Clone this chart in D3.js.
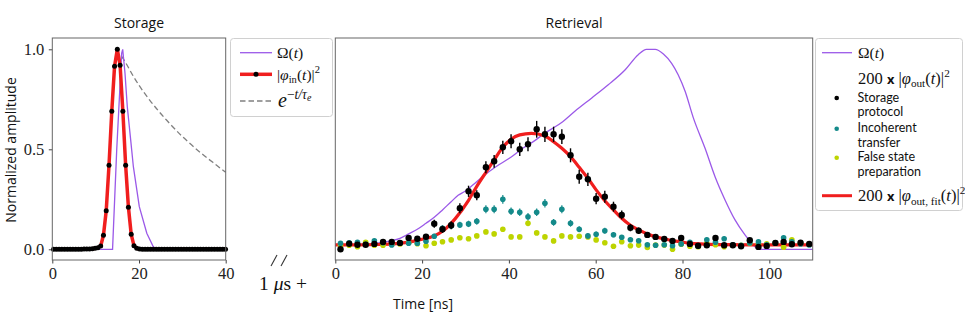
<!DOCTYPE html>
<html><head><meta charset="utf-8">
<script src="https://cdn.jsdelivr.net/npm/d3@7"></script>
<style>body{margin:0;background:#fff} svg{display:block}</style>
</head><body>
<svg id="c" width="965" height="320"></svg>
<script>
// ---------- DATA ----------
// Storage panel
const inTimes = [0.28,0.92,1.56,2.2,2.84,3.48,4.12,4.76,5.4,6.04,6.68,7.32,7.96,8.6,9.24,9.88,10.52,11.16,11.8,12.44,13.08,13.72,14.36,15.0,15.64,16.28,16.92,17.56,18.2,18.84,19.48,20.12,20.76,21.4,22.04,22.68,23.32,23.96,24.6,25.24,25.88,26.52,27.16,27.8,28.44,29.08,29.72,30.36,31.0,31.64,32.28,32.92,33.56,34.2,34.84,35.48,36.12,36.76,37.4,38.04,38.68,39.32,39.96];
const inValues = [0,0,0,0,0,0,0,0,0,0,0,0.001,0.002,0.002,0.003,0.005,0.008,0.016,0.07,0.193,0.42,0.69,0.915,1.0,0.92,0.69,0.42,0.21,0.075,0.018,0.005,0.001,0,0,0,0,0,0,0,0,0,0,0,0,0,0,0,0,0,0,0,0,0,0,0,0,0,0,0,0,0,0,0];
const omegaInT = [0,13.9,14.86,16.0,16.24,16.77,17.3,18.08,18.7,20.07,21.8,23.3,24.1,40];
const omegaInV = [0,0,0.497,0.98,1.0,0.88,0.713,0.547,0.413,0.213,0.08,0.013,0,0];
const decayT = [16.0,17.0,18.7,20.0,22.5,26.4,30.2,34.1,37.9,40];
const decayV = [0.965,0.93,0.865,0.82,0.745,0.645,0.56,0.485,0.42,0.385];

// Retrieval panel
const outTimes = [1.2,3.2,5.1,7.0,9.0,11.0,13.0,14.9,16.9,18.9,20.9,22.8,24.7,26.7,28.7,30.7,32.6,34.7,36.6,38.6,40.5,42.5,44.4,46.4,48.3,50.3,52.2,54.2,56.2,58.2,60.1,62.1,64.1,66.0,68.0,69.9,71.9,73.8,75.8,77.7,79.7,81.7,83.6,85.6,87.6,89.6,91.6,93.5,95.5,97.5,99.4,101.4,103.3,105.2,107.2,109.2];
const storageVals = [0.0,0.028,0.023,0.023,0.027,0.037,0.037,0.032,0.057,0.053,0.063,0.128,0.10,0.12,0.205,0.29,0.27,0.41,0.44,0.51,0.54,0.50,0.525,0.60,0.575,0.575,0.563,0.47,0.363,0.35,0.253,0.263,0.213,0.172,0.108,0.093,0.072,0.062,0.052,0.042,0.057,0.027,0.018,0.02,0.057,0.02,0.02,0.015,0.045,0.012,0.017,0.032,0.037,0.025,0.033,0.027];
const storageErr = [0.008,0.008,0.008,0.008,0.008,0.009,0.009,0.009,0.01,0.01,0.012,0.02,0.018,0.02,0.025,0.028,0.025,0.03,0.032,0.033,0.035,0.033,0.035,0.042,0.038,0.038,0.037,0.035,0.035,0.033,0.028,0.03,0.025,0.022,0.018,0.016,0.014,0.012,0.012,0.01,0.012,0.009,0.008,0.008,0.012,0.008,0.008,0.008,0.01,0.008,0.008,0.009,0.009,0.008,0.009,0.008];
const incohVals = [0.03,0.033,0.035,0.025,0.043,0.033,0.022,0.033,0.03,0.03,0.04,0.065,0.105,0.117,0.122,0.127,0.14,0.2,0.2,0.25,0.19,0.185,0.163,0.185,0.23,0.135,0.2,0.13,0.10,0.067,0.075,0.093,0.073,0.06,0.048,0.043,0.023,0.02,0.023,0.018,0.027,0.035,0.015,0.048,0.035,0.053,0.023,0.02,0.032,0.037,0.023,0.032,0.058,0.038,0.027,0.022];
const incohErr = [0.01,0.01,0.01,0.01,0.01,0.01,0.01,0.01,0.01,0.01,0.011,0.013,0.015,0.016,0.016,0.016,0.017,0.02,0.02,0.022,0.019,0.019,0.018,0.019,0.021,0.017,0.02,0.017,0.015,0.013,0.014,0.015,0.013,0.012,0.012,0.011,0.01,0.01,0.01,0.01,0.01,0.01,0.01,0.011,0.01,0.012,0.01,0.01,0.01,0.01,0.01,0.01,0.012,0.01,0.01,0.01];
const falseVals = [0.02,0.02,0.013,0.035,0.02,0.02,0.025,0.027,0.033,0.028,0.018,0.03,0.038,0.047,0.058,0.053,0.067,0.087,0.077,0.10,0.062,0.062,0.13,0.082,0.062,0.042,0.067,0.062,0.065,0.062,0.047,0.033,0.015,0.038,0.018,0.021,0.009,0.021,0.021,0.0,0.025,0.015,0.013,0.03,0.023,0.013,0.02,0.02,0.03,0.025,0.028,0.03,0.01,0.048,0.03,0.025];
const falseErr = [0.008,0.008,0.008,0.008,0.008,0.008,0.008,0.008,0.008,0.008,0.008,0.008,0.009,0.009,0.01,0.01,0.01,0.011,0.011,0.012,0.01,0.01,0.015,0.011,0.01,0.009,0.01,0.01,0.01,0.01,0.009,0.009,0.008,0.009,0.008,0.008,0.008,0.008,0.008,0.008,0.008,0.008,0.008,0.008,0.008,0.008,0.008,0.008,0.008,0.008,0.008,0.008,0.008,0.009,0.008,0.008];
const fitT = [0,5,10,14,17,20,22.8,25,27.6,30.7,32.6,34.7,36.6,38.6,40.5,42.5,45.2,48.3,50.3,52.2,54.2,56.2,58.2,60.1,62.1,64.1,66,68,69.9,71.9,73.8,75.8,77.7,79.7,81.7,85,90,100,110];
const fitV = [0.022,0.022,0.024,0.028,0.036,0.05,0.067,0.095,0.152,0.245,0.315,0.385,0.447,0.51,0.55,0.572,0.58,0.567,0.538,0.505,0.463,0.41,0.355,0.297,0.243,0.197,0.155,0.12,0.097,0.077,0.063,0.052,0.043,0.037,0.03,0.026,0.023,0.022,0.022];
const omegaOutT = [0,4,8,11,13,14.9,16.9,18.9,20.9,22.8,24.7,26.7,28.3,29.9,31.6,33.9,37.0,40.1,43.2,46.2,48.2,50.1,52.4,55.2,59.1,62.9,66.8,69.8,71.7,73.7,75.6,77.5,79.0,80.6,82.5,85.2,87.5,89.8,92.1,94.4,96.7,97.8,110];
const omegaOutV = [0.02,0.022,0.027,0.035,0.043,0.055,0.077,0.10,0.13,0.16,0.197,0.238,0.27,0.29,0.32,0.363,0.413,0.455,0.505,0.547,0.58,0.605,0.638,0.69,0.757,0.823,0.898,0.973,1.0,1.0,0.977,0.93,0.873,0.79,0.657,0.505,0.363,0.247,0.147,0.072,0.013,0.0,0.0];

const leftTicksX = [0,20,40];
const rightTicksX = [0,20,40,60,80,100];
const ticksY = [0,0.5,1.0];

// ---------- STYLE ----------
const C = {purple:"#9b59e8", red:"#f01e1e", teal:"#148a8a", yel:"#bdd400", gray:"#808080", spine:"#666"};
const SERIF = "'Liberation Serif','DejaVu Serif',serif";
const SANS = "'Open Sans','Noto Sans',sans-serif";
const SANS2 = "Lato,'Open Sans',sans-serif";

const svg = d3.select("#c");
const xL = d3.scaleLinear([0,40],[52.3,225.7]);
const xR = d3.scaleLinear([0,110],[335.3,812.7]);
const y = d3.scaleLinear([0,1],[249.3,49.3]);
const yTop = 38, yBot = 260;

function frame(x0,x1){
  svg.append("rect").attr("x",x0).attr("y",yTop).attr("width",x1-x0).attr("height",yBot-yTop)
    .attr("fill","none").attr("stroke",C.spine).attr("stroke-width",1);
}
function styleAxis(g){
  g.select(".domain").remove();
  g.selectAll(".tick line").attr("stroke","#444");
  g.selectAll(".tick text").style("font-family",SERIF).style("font-size","16.5px").attr("fill","#222");
}

// ---------- LEFT PANEL ----------
svg.append("g").attr("transform",`translate(0,${yBot})`)
  .call(d3.axisBottom(xL).tickValues(leftTicksX).tickSize(3.5).tickPadding(3.5).tickFormat(d3.format("d"))).call(styleAxis);
svg.append("g").attr("transform",`translate(${xL(0)},0)`)
  .call(d3.axisLeft(y).tickValues(ticksY).tickSize(3.5).tickPadding(4.5).tickFormat(d3.format(".1f"))).call(styleAxis);

const lineL = d3.line().x(d=>xL(d[0])).y(d=>y(d[1]));
svg.append("path").datum(decayT.map((t,i)=>[t,decayV[i]])).attr("d",lineL.curve(d3.curveMonotoneX))
  .attr("fill","none").attr("stroke",C.gray).attr("stroke-width",1.3).attr("stroke-dasharray","5.5,3");
lineL.curve(d3.curveLinear);
svg.append("path").datum(omegaInT.map((t,i)=>[t,omegaInV[i]])).attr("d",lineL)
  .attr("fill","none").attr("stroke",C.purple).attr("stroke-width",1.3);
svg.append("path").datum(inTimes.map((t,i)=>[t,inValues[i]])).attr("d",lineL)
  .attr("fill","none").attr("stroke",C.red).attr("stroke-width",3.5).attr("stroke-linejoin","round");
svg.append("g").selectAll("circle").data(inTimes.map((t,i)=>[t,inValues[i]])).join("circle")
  .attr("cx",d=>xL(d[0])).attr("cy",d=>y(d[1])).attr("r",2.5).attr("fill","#000");
frame(52.3,225.7);

// ---------- RIGHT PANEL ----------
svg.append("g").attr("transform",`translate(0,${yBot})`)
  .call(d3.axisBottom(xR).tickValues(rightTicksX).tickSize(3.5).tickPadding(3.5).tickFormat(d3.format("d"))).call(styleAxis);

const lineR = d3.line().x(d=>xR(d[0])).y(d=>y(d[1]));
svg.append("path").datum(omegaOutT.map((t,i)=>[t,omegaOutV[i]])).attr("d",lineR.curve(d3.curveMonotoneX))
  .attr("fill","none").attr("stroke",C.purple).attr("stroke-width",1.3);
svg.append("path").datum(fitT.map((t,i)=>[t,fitV[i]])).attr("d",lineR.curve(d3.curveMonotoneX))
  .attr("fill","none").attr("stroke",C.red).attr("stroke-width",3.2);

function series(vals, errs, color, r, ew){
  const data = outTimes.map((t,i)=>({t, v:vals[i], e:errs[i]}));
  const g = svg.append("g");
  g.selectAll("line").data(data).join("line")
    .attr("x1",d=>xR(d.t)).attr("x2",d=>xR(d.t)).attr("y1",d=>y(d.v-d.e)).attr("y2",d=>y(d.v+d.e))
    .attr("stroke",color).attr("stroke-width",ew);
  g.selectAll("circle").data(data).join("circle")
    .attr("cx",d=>xR(d.t)).attr("cy",d=>y(d.v)).attr("r",r).attr("fill",color);
}
series(falseVals, falseErr, C.yel, 2.8, 1.2);
series(incohVals, incohErr, C.teal, 2.8, 1.2);
series(storageVals, storageErr, "#000", 3.2, 1.4);
frame(335.3,812.7);

// ---------- TEXT ----------
svg.append("text").attr("x",139).attr("y",28).attr("text-anchor","middle")
  .style("font-family",SANS).style("font-size","14px").attr("fill","#111").text("Storage");
svg.append("text").attr("x",574).attr("y",28).attr("text-anchor","middle")
  .style("font-family",SANS).style("font-size","14px").attr("fill","#111").text("Retrieval");
svg.append("text").attr("transform","translate(16,150) rotate(-90)").attr("text-anchor","middle")
  .style("font-family",SANS).style("font-size","14px").attr("fill","#111").text("Normalized amplitude");
svg.append("text").attr("x",423).attr("y",309).attr("text-anchor","middle")
  .style("font-family",SANS).style("font-size","14px").attr("fill","#111").text("Time [ns]");

// axis break marks
svg.append("line").attr("x1",271).attr("y1",266).attr("x2",277).attr("y2",255).attr("stroke","#333").attr("stroke-width",1.1);
svg.append("line").attr("x1",281).attr("y1",266).attr("x2",287).attr("y2",255).attr("stroke","#333").attr("stroke-width",1.1);

// math text helper: flags i=italic, b=subscript, p=superscript, q=sub of sup, s=sans bold
function mt(x, yb, parts, size){
  const t = svg.append("text").attr("x",x).attr("y",yb)
    .style("font-family",SERIF).style("font-size",size+"px").attr("fill","#111");
  let shift = 0;
  parts.forEach(([s,f])=>{
    const ts = t.append("tspan").text(s);
    let target = 0, fs = size;
    if(f.includes("b")){target = size*0.22; fs = size*0.68;}
    if(f.includes("p")){target = -size*0.42; fs = size*0.68;}
    if(f.includes("q")){target = -size*0.30; fs = size*0.5;}
    if(f.includes("i")) ts.style("font-style","italic");
    if(f.includes("s")){ ts.style("font-family",SANS).style("font-weight","bold"); fs = size*0.78; }
    ts.style("font-size",fs+"px").attr("dy",target-shift);
    shift = target;
  });
  return t;
}
mt(259, 290, [["1 ",""],["μ","i"],["s +",""]], 19.5);

// Legend 1
svg.append("rect").attr("x",230.5).attr("y",38.5).attr("width",102).attr("height",78).attr("rx",3)
  .attr("fill","#fff").attr("stroke","#d0d0d0");
svg.append("line").attr("x1",240).attr("x2",272).attr("y1",52.7).attr("y2",52.7).attr("stroke",C.purple).attr("stroke-width",1.3);
mt(277, 58, [["Ω(",""],["t","i"],[")",""]], 15.5);
svg.append("line").attr("x1",240).attr("x2",272).attr("y1",74.3).attr("y2",74.3).attr("stroke",C.red).attr("stroke-width",3.5);
svg.append("circle").attr("cx",256).attr("cy",74.3).attr("r",2.5).attr("fill","#000");
mt(277, 79.5, [["|",""],["φ","i"],["in","b"],["(",""],["t","i"],[")|",""],["2","p"]], 15.5);
svg.append("line").attr("x1",240).attr("x2",272).attr("y1",101).attr("y2",101).attr("stroke",C.gray).attr("stroke-width",1.3).attr("stroke-dasharray","5.5,3");
mt(278, 107, [["e","i"],["−","p"],["t/τ","pi"],["e","qi"]], 20);

// Legend 2
svg.append("rect").attr("x",815.5).attr("y",38.5).attr("width",147).attr("height",172).attr("rx",3)
  .attr("fill","#fff").attr("stroke","#d0d0d0");
svg.append("line").attr("x1",822).attr("x2",852).attr("y1",52.7).attr("y2",52.7).attr("stroke",C.purple).attr("stroke-width",1.3);
mt(858, 58, [["Ω(",""],["t","i"],[")",""]], 15.5);
mt(858, 83.5, [["200 ",""],["x","s"],[" |",""],["φ","i"],["out","b"],["(",""],["t","i"],[")|",""],["2","p"]], 16.5);
const legItems = [[98,"#000",["Storage","protocol"]],[128.7,C.teal,["Incoherent","transfer"]],[157.7,C.yel,["False state","preparation"]]];
legItems.forEach(([cy,col,lines])=>{
  svg.append("circle").attr("cx",836.7).attr("cy",cy).attr("r",2.3).attr("fill",col);
  lines.forEach((l,k)=>svg.append("text").attr("x",857.5).attr("y",cy+3.6+k*14.6)
    .style("font-family",SANS2).style("font-size","12.5px").attr("fill","#111").text(l));
});
svg.append("line").attr("x1",822).attr("x2",852).attr("y1",195.7).attr("y2",195.7).attr("stroke",C.red).attr("stroke-width",3);
mt(858, 201, [["200 ",""],["x","s"],[" |",""],["φ","i"],["out, fit","b"],["(",""],["t","i"],[")|",""],["2","p"]], 16.5);
</script>
</body></html>
